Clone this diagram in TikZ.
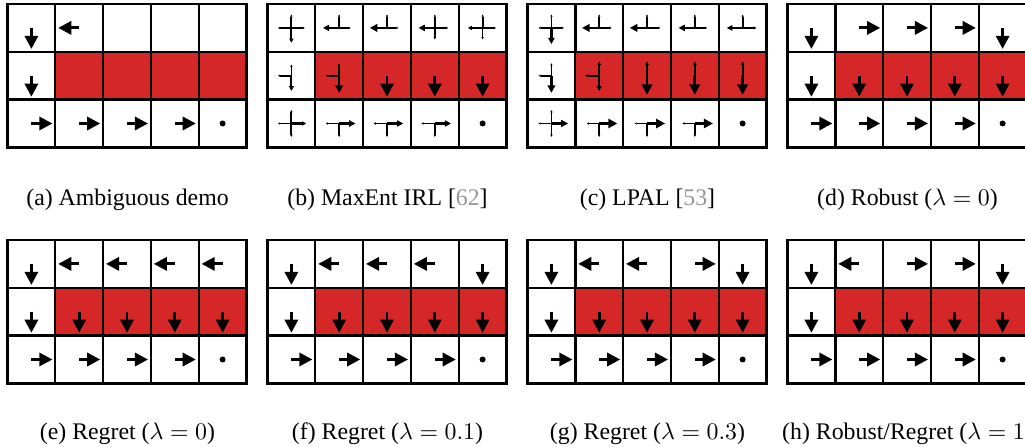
\documentclass[tikz,border=0pt]{standalone}
\usepackage{fontspec}
\setmainfont{Liberation Serif}
\usetikzlibrary{arrows.meta}
\definecolor{hazard}{RGB}{214,39,40}
\definecolor{citegray}{RGB}{150,150,150}

% 3 x 5 gridworld, named #1<row><col>, top left corner at (#2,#3)
\newcommand{\gridworld}[3]{%
  \foreach \r in {0,1,2}
    \foreach \c in {0,...,4} {
      \pgfmathsetmacro\cellfill{ifthenelse((\r==1)&&(\c>0),"hazard","none")}
      \node[cell, fill=\cellfill] (#1\r\c) at ({#2+(\c+0.5)*47.8}, {#3-(\r+0.5)*47.8}) {};
    }
  \fill (#124) circle (3);
}
% policy arrow out of a cell: cell, angle, length (share of the cell)
\newcommand{\pol}[3]{%
  \pgfmathsetmacro\tip{max(0.9,(#3-0.25)*1.45*20.08)}
  \pgfmathsetmacro\lw{0.7+(#3-0.26)*3}
  \draw[line width=\lw pt, -{Triangle[length=\tip pt, width=\tip pt]}] (#1.center) -- ++(#2:{#3*47.8});
}

\begin{document}
\begin{tikzpicture}[x = 0.42pt, y = 0.42pt, font = \fontsize{10}{12}\selectfont,
    cell/.style = { draw, line width = 1pt, minimum size = 20.08pt, inner sep = 0pt },
    caption/.style = { anchor = base, inner sep = 0pt }]
  \useasboundingbox (0, 0) rectangle (1025, 446);

  \gridworld{a}{7.5}{442}
  \gridworld{b}{267.5}{442}
  \gridworld{c}{527.5}{442}
  \gridworld{d}{787.5}{442}
  \gridworld{e}{7.5}{206}
  \gridworld{f}{267.5}{206}
  \gridworld{g}{527.5}{206}
  \gridworld{h}{787.5}{206}

  % ambiguous demo
  \foreach \cl/\a in {00/270, 01/180, 10/270, 20/0, 21/0, 22/0, 23/0}
    \pol{a\cl}{\a}{0.44};

  % stochastic policies
  \foreach \cl/\a/\l in {00/90/.28, 00/180/.28, 00/0/.28, 00/270/.31,
      01/180/.34, 01/90/.28, 01/0/.24, 02/180/.36, 02/90/.28, 02/0/.24,
      03/180/.34, 03/90/.28, 03/0/.28, 03/270/.24, 04/180/.31, 04/90/.28, 04/0/.28, 04/270/.24,
      10/180/.28, 10/90/.23, 10/270/.32, 11/180/.28, 11/90/.26, 11/270/.36,
      12/270/.44, 13/270/.44, 14/270/.44,
      20/180/.28, 20/0/.31, 20/90/.28, 20/270/.28,
      21/0/.34, 21/180/.28, 21/270/.28, 22/0/.34, 22/180/.28, 22/270/.28,
      23/0/.34, 23/180/.28, 23/270/.28}
    \pol{b\cl}{\a}{\l};
  \foreach \cl/\a/\l in {00/90/.28, 00/180/.27, 00/0/.26, 00/270/.34,
      01/180/.36, 01/90/.28, 01/0/.26, 02/180/.36, 02/90/.28, 02/0/.28,
      03/180/.34, 03/90/.28, 03/0/.26, 04/180/.33, 04/90/.28, 04/0/.29,
      10/180/.27, 10/90/.26, 10/270/.36, 11/180/.29, 11/90/.3, 11/270/.32,
      12/90/.3, 12/270/.4, 13/90/.3, 13/270/.4, 14/90/.3, 14/270/.4,
      20/90/.28, 20/270/.28, 20/180/.27, 20/0/.35,
      21/180/.26, 21/0/.38, 21/270/.28, 22/180/.26, 22/0/.38, 22/270/.28,
      23/180/.26, 23/0/.38, 23/270/.28}
    \pol{c\cl}{\a}{\l};

  % deterministic policies
  \foreach \g in {d, e, f, g, h}
    \foreach \cl/\a in {00/270, 10/270, 11/270, 12/270, 13/270, 14/270, 20/0, 21/0, 22/0, 23/0}
      \pol{\g\cl}{\a}{0.44};
  \foreach \cl/\a in {d01/0, d02/0, d03/0, d04/270, e01/180, e02/180, e03/180, e04/180,
      f01/180, f02/180, f03/180, f04/270, g01/180, g02/180, g03/0, g04/270,
      h01/180, h02/0, h03/0, h04/270}
    \pol{\cl}{\a}{0.44};

  \node[caption] (capa) at (127.5, 240) {(a) Ambiguous demo};
  \node[caption] (capb) at (387.5, 240) {(b) MaxEnt IRL [\textcolor{citegray}{62}]};
  \node[caption] (capc) at (647.5, 240) {(c) LPAL [\textcolor{citegray}{53}]};
  \node[caption] (capd) at (907.5, 240) {(d) Robust ($\lambda = 0$)};
  \node[caption] (cape) at (127.5, 7) {(e) Regret ($\lambda = 0$)};
  \node[caption] (capf) at (387.5, 7) {(f) Regret ($\lambda = 0.1$)};
  \node[caption] (capg) at (647.5, 7) {(g) Regret ($\lambda = 0.3$)};
  \node[caption] (caph) at (907.5, 7) {(h) Robust/Regret ($\lambda = 1$)};
\end{tikzpicture}
\end{document}
